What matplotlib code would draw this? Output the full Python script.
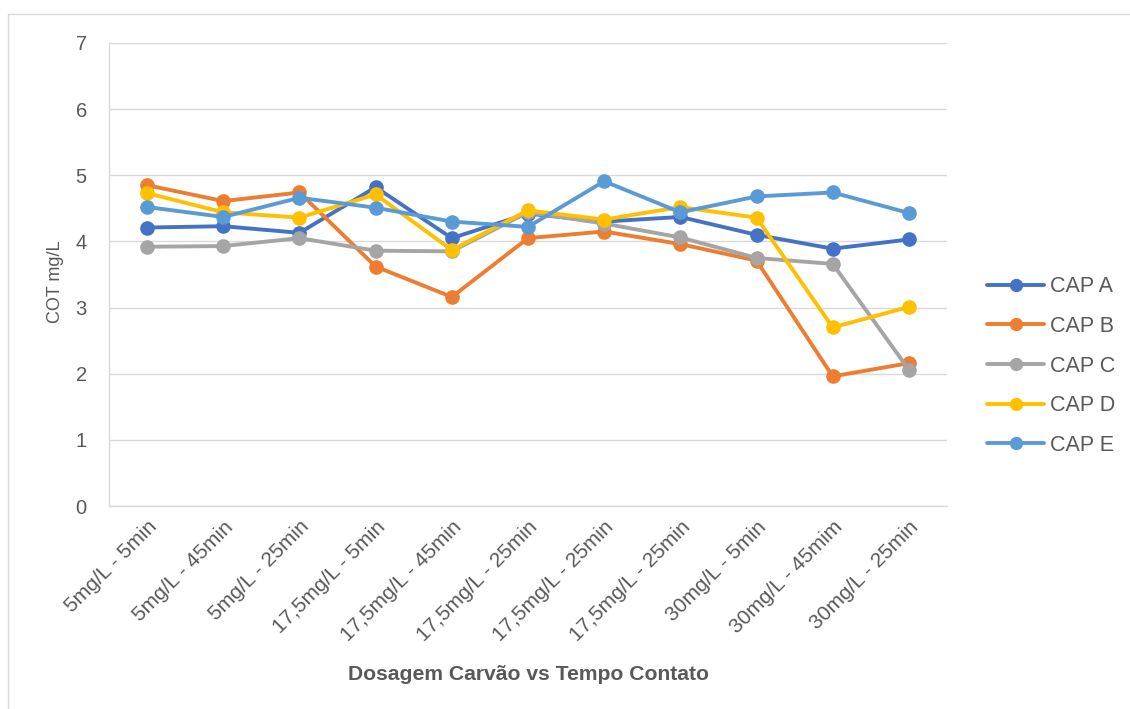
import matplotlib
matplotlib.use("Agg")
import matplotlib.pyplot as plt
from matplotlib.patches import Rectangle

plt.rcParams['font.family'] = ['Liberation Sans', 'DejaVu Sans']

categories = ["5mg/L - 5min", "5mg/L - 45min", "5mg/L - 25min", "17,5mg/L - 5min",
              "17,5mg/L - 45min", "17,5mg/L - 25min", "17,5mg/L - 25min", "17,5mg/L - 25min",
              "30mg/L - 5min", "30mg/L - 45mim", "30mg/L - 25min"]
cap_a = [4.21, 4.23, 4.13, 4.82, 4.05, 4.42, 4.30, 4.37, 4.10, 3.89, 4.03]
cap_b = [4.85, 4.61, 4.74, 3.62, 3.16, 4.05, 4.15, 3.96, 3.71, 1.96, 2.16]
cap_c = [3.92, 3.93, 4.05, 3.86, 3.85, 4.44, 4.27, 4.06, 3.75, 3.66, 2.06]
cap_d = [4.73, 4.44, 4.36, 4.71, 3.87, 4.47, 4.33, 4.52, 4.36, 2.70, 3.01]
cap_e = [4.52, 4.37, 4.66, 4.51, 4.30, 4.22, 4.91, 4.44, 4.68, 4.74, 4.43]
series_names = ["CAP A", "CAP B", "CAP C", "CAP D", "CAP E"]
series = [cap_a, cap_b, cap_c, cap_d, cap_e]
colors = ["#4472C4", "#ED7D31", "#A5A5A5", "#FFC000", "#5B9BD5"]
yticks = [0, 1, 2, 3, 4, 5, 6, 7]

W, H = 1130, 709
fig = plt.figure(figsize=(W / 100, H / 100), dpi=100)
fig.patch.set_facecolor("white")

# outer chart border
fig.patches.append(Rectangle((8 / W, -0.01), 1.2, (H - 14) / H + 0.01, transform=fig.transFigure,
                             fill=False, edgecolor="#D9D9D9", linewidth=1.0))

ax = fig.add_axes([109 / W, (H - 506) / H, (947 - 109) / W, (506 - 43) / H])
x = list(range(len(categories)))
for name, vals, c in zip(series_names, series, colors):
    ax.plot(x, vals, color=c, linewidth=2.8, marker="o", markersize=9.5, label=name,
            solid_capstyle="round")

ax.set_xlim(-0.5, len(categories) - 0.5)
ax.set_ylim(0, 7)
ax.set_yticks(yticks)
ax.set_yticklabels([str(t) for t in yticks], fontsize=14.5, color="#595959")
ax.set_xticks(x)
ax.set_xticklabels(categories, rotation=45, ha="right", rotation_mode="anchor",
                   fontsize=15, color="#595959")
ax.tick_params(axis="y", length=0, pad=16)
ax.tick_params(axis="x", length=0, pad=8)
ax.grid(axis="y", color="#D9D9D9", linewidth=1.0)
ax.set_axisbelow(True)
for s in ["top", "right"]:
    ax.spines[s].set_visible(False)
ax.spines["left"].set_color("#D9D9D9")
ax.spines["bottom"].set_color("#D9D9D9")
ax.spines["left"].set_linewidth(1.0)
ax.spines["bottom"].set_linewidth(1.0)

fig.text(55 / W, 1 - 282 / H, "COT mg/L", rotation=90, ha="center", va="center",
         fontsize=13, color="#595959")
fig.text(529 / W, 1 - 675 / H, "Dosagem Carvão vs Tempo Contato", ha="center", va="center",
         fontsize=15.2, fontweight="bold", color="#595959")

leg = ax.legend(loc="center left", bbox_to_anchor=(968 / W, 1 - 366 / H),
                bbox_transform=fig.transFigure, frameon=False, fontsize=15.5,
                labelcolor="#595959", handlelength=2.65, labelspacing=0.87,
                handletextpad=0.25, markerscale=0.9)

fig.savefig("out.png", dpi=100, facecolor="white")
